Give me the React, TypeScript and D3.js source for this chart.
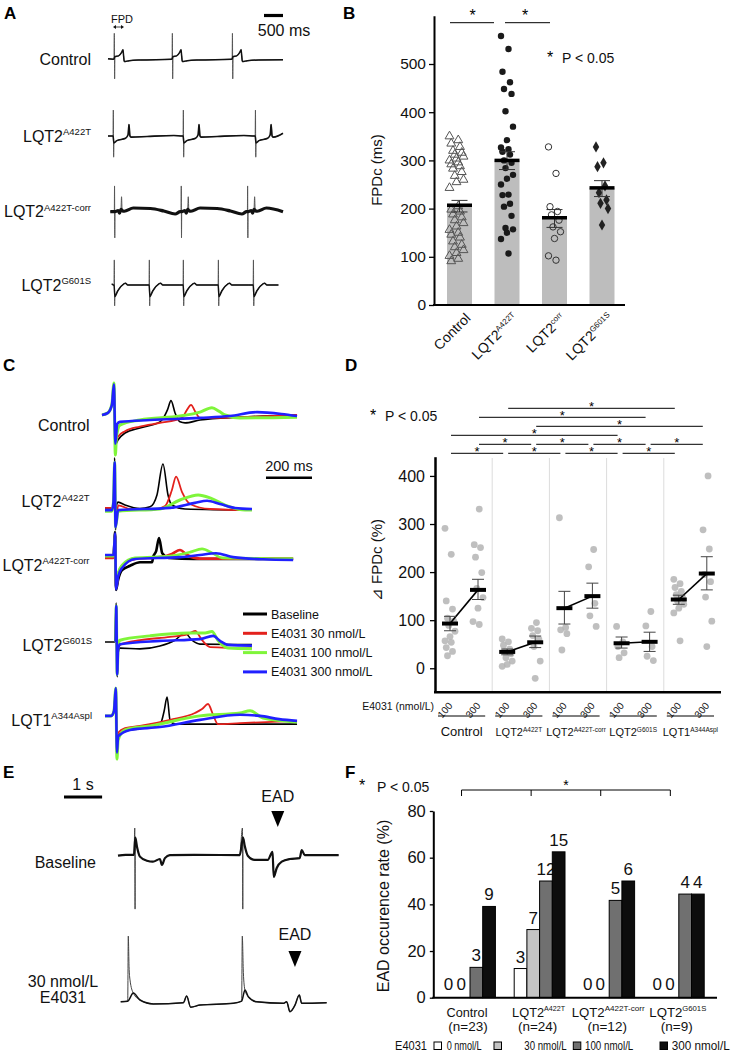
import React, { useEffect, useRef } from 'react';
import * as d3 from 'd3';

const FONT = "'Liberation Sans', Arial, Helvetica, sans-serif";
type Pt = [number, number];

// ================= Panel A (field potential traces) =================
const aRowLabels: [string, string][] = [['Control', ''], ['LQT2', 'A422T'], ['LQT2', 'A422T-corr'], ['LQT2', 'G601S']];
const aBaselines = [59.3, 136, 211.7, 285];
const aBeatTimes = [
  [158, 1684, 3263],
  [132, 1973, 3868],
  [166, 1920, 3664],
  [158, 1079, 1973, 2894, 3815],
];
const aTemplates: Pt[][] = [
  [[-20, 0], [0, 0.02], [8, 1.13], [16, -0.85], [24, 0.12], [120, 0.15], [200, 0.3], [236, 0.42], [252, 0.15], [270, -0.1], [400, -0.06], [700, -0.03]],
  [[-20, 0], [0, 0], [8, 1.13], [16, -0.92], [24, -0.3], [100, -0.2], [330, -0.1], [395, 0.05], [420, 0.5], [445, 0.0], [480, -0.05], [900, -0.02], [1600, 0.02]],
  [[-20, 0], [0, 0], [6, 1.12], [12, -1.14], [18, 0.0], [100, 0.05], [140, -0.06], [175, 0.1], [190, 0.65], [205, 0.05], [260, 0.02], [500, 0.16], [950, 0.14], [1300, 0.03], [1600, -0.1]],
  [[-20, 0], [0, 0], [8, 1.09], [16, -0.91], [24, -0.5], [100, -0.25], [260, 0.05], [300, 0.08], [360, 0], [800, 0]],
];
const aStarts: Pt[] = [[0, 0.02], [0, 0], [60, 0.0], [100, 0.05]];
const aEnds: Pt[] = [[4600, -0.02], [4600, 0.12], [4600, 0.0], [4480, 0]];
const aBandWidths = [1.5, 1.6, 3.2, 1.5];
const aBandLimits = [0.85, 0.85, 0.4, 0.85];

// ================= Panel B (FPDc bar chart) =================
const bCategories = ['Control', 'LQT2A422T', 'LQT2corr', 'LQT2G601S'];
const bCatLabels: [string, string][] = [['Control', ''], ['LQT2', 'A422T'], ['LQT2', 'corr'], ['LQT2', 'G601S']];
const bMeans = [207, 300, 181, 243];
const bErrLow = [193, 281, 161, 225];
const bErrHigh = [217, 318, 198, 258];
const bControlPts = [350, 342, 335, 328, 320, 316, 312, 308, 304, 300, 296, 292, 288, 283, 276, 268, 260, 255, 243, 205, 198, 194, 188, 182, 176, 170, 163, 156, 150, 146, 140, 132, 125, 120, 114, 108, 102, 96, 91];
const bA422TPts = [558, 531, 484, 462, 448, 438, 402, 370, 342, 327, 323, 318, 312, 300, 295, 284, 270, 262, 250, 229, 228, 210, 204, 185, 160, 157, 150, 137, 107];
const bCorrPts = [328, 273, 204, 194, 187, 176, 162, 152, 138, 102, 93];
const bG601SPts = [328, 295, 287, 247, 233, 218, 211, 200, 166];
const bYTicks = [0, 100, 200, 300, 400, 500];

// ================= Panel C (superimposed traces) =================
const cRowLabels: [string, string][] = [['Control', ''], ['LQT2', 'A422T'], ['LQT2', 'A422T-corr'], ['LQT2', 'G601S'], ['LQT1', 'A344Aspl']];
const cBaselines = [415, 509, 555, 642, 722];
const cSeries = ['Baseline', 'E4031 30 nmol/L', 'E4031 100 nmol/L', 'E4031 300 nmol/L'];
const cColors = ['#000000', '#e3211c', '#7ff53a', '#2020ff'];
const cControl: Pt[][] = [
  [[0, 0], [26, 0.06], [43, 0.28], [52, 0.89], [58, -0.83], [70, -0.69], [100, -0.5], [165, -0.36], [252, -0.19], [265, -0.1], [285, 0.15], [300, 0.4], [318, 0.05], [339, -0.19], [361, -0.22], [426, -0.14], [600, -0.06], [848, 0]],
  [[0, 0], [26, 0.06], [43, 0.28], [52, 0.85], [58, -0.75], [70, -0.6], [100, -0.45], [165, -0.32], [252, -0.22], [348, -0.08], [370, 0.15], [387, 0.28], [405, 0.1], [426, -0.08], [500, -0.08], [600, -0.06], [848, 0.0]],
  [[0, 0], [26, 0.06], [43, 0.3], [52, 0.89], [58, -1.11], [63, -0.6], [78, -0.28], [165, -0.14], [339, -0.03], [426, 0.08], [478, 0.2], [510, 0.1], [535, 0], [600, -0.08], [848, -0.06]],
  [[0, 0], [26, 0.06], [43, 0.28], [52, 0.85], [58, -0.8], [66, -0.25], [78, -0.19], [209, -0.14], [426, -0.08], [556, -0.03], [674, 0.08], [780, 0.03], [848, -0.03]],
];
const cA422T: Pt[][] = [
  [[13, 0], [43, 0], [50, 0.2], [55, 1.42], [59, -0.58], [63, 0.1], [70, 0.19], [100, 0.11], [165, 0.01], [209, 0.06], [239, 0.39], [265, 1.25], [287, 0.39], [304, 0.11], [361, 0], [652, -0.03]],
  [[13, 0.03], [43, 0.03], [50, 0.2], [55, 1.3], [59, -0.5], [70, 0.1], [122, 0], [209, -0.03], [274, 0.08], [304, 0.53], [322, 0.9], [348, 0.47], [383, 0.14], [470, 0], [652, -0.03]],
  [[13, -0.06], [43, -0.06], [50, 0.2], [55, 1.3], [59, -0.5], [70, -0.06], [252, 0], [339, 0.25], [418, 0.39], [470, 0.31], [535, 0.11], [622, -0.03], [652, -0.03]],
  [[13, -0.03], [43, -0.03], [50, 0.2], [55, 1.3], [59, -0.5], [70, -0.03], [296, 0.03], [404, 0.17], [457, 0.23], [513, 0.14], [578, 0.03], [652, 0]],
];
const cCorr: Pt[][] = [
  [[13, -0.06], [50, -0.06], [57, 0.64], [61, -0.97], [70, -0.69], [87, -0.42], [122, -0.3], [165, -0.2], [218, -0.2], [222, -0.06], [235, 0.1], [248, 0.47], [262, 0.05], [290, -0.08], [400, -0.11], [831, -0.11]],
  [[13, -0.08], [50, -0.08], [57, 0.55], [61, -0.9], [70, -0.55], [87, -0.3], [144, -0.11], [252, -0.06], [304, 0.03], [339, 0.14], [370, 0], [426, -0.1], [831, -0.1]],
  [[13, -0.03], [50, -0.03], [57, 0.55], [61, -0.9], [70, -0.5], [87, -0.28], [144, -0.08], [296, -0.03], [383, 0.08], [435, 0.17], [478, 0.06], [522, -0.08], [831, -0.1]],
  [[13, 0], [50, 0], [57, 0.6], [61, -0.95], [70, -0.6], [87, -0.36], [144, -0.11], [339, -0.06], [426, 0.0], [496, 0.05], [570, -0.06], [700, -0.12], [831, -0.14]],
];
const cG601S: Pt[][] = [
  [[13, 0], [55, 0], [62, 1.08], [66, -0.97], [70, -0.3], [78, -0.17], [165, -0.19], [252, -0.11], [317, 0.05], [361, 0.25], [391, 0.05], [426, -0.06], [652, -0.07]],
  [[60, 0], [62, 1.0], [66, -0.9], [70, -0.2], [78, -0.08], [165, 0.05], [296, 0.14], [374, 0.22], [405, 0.31], [435, 0.05], [470, -0.14], [652, -0.17]],
  [[60, 0], [62, 1.0], [66, -0.9], [70, -0.1], [78, 0.05], [209, 0.17], [374, 0.25], [448, 0.25], [478, 0.29], [504, 0.05], [548, -0.17], [652, -0.19]],
  [[60, 0], [62, 1.0], [66, -0.9], [70, -0.2], [78, -0.06], [252, 0.03], [426, 0.08], [483, 0.17], [513, 0.03], [548, -0.08], [652, -0.1]],
];
const cLQT1: Pt[][] = [
  [[13, 0.17], [40, 0.17], [52, 0.3], [60, 0.94], [65, -0.8], [70, -0.36], [100, -0.25], [165, -0.19], [230, -0.11], [257, 0], [270, 0.3], [283, 0.69], [296, 0.05], [318, -0.06], [848, -0.06]],
  [[13, 0.17], [40, 0.17], [52, 0.3], [60, 0.9], [65, -0.8], [70, -0.3], [100, -0.17], [165, -0.11], [296, 0.06], [404, 0.25], [435, 0.36], [461, 0.5], [483, 0.2], [504, -0.06], [600, -0.03], [848, 0.03]],
  [[13, 0.17], [40, 0.17], [52, 0.3], [60, 0.94], [65, -1.03], [70, -0.5], [100, -0.22], [209, -0.11], [426, 0.17], [600, 0.25], [644, 0.31], [700, 0.11], [848, 0]],
  [[13, 0.17], [40, 0.17], [52, 0.3], [60, 0.94], [65, -0.85], [70, -0.4], [122, -0.22], [252, -0.14], [426, 0.06], [600, 0.2], [687, 0.17], [770, 0.08], [848, 0.03]],
];
const cRows = [cControl, cA422T, cCorr, cG601S, cLQT1];
const cWidths = [1.6, 1.8, 3.0, 2.6];

// ================= Panel D (delta FPDc) =================
const dGroups = ['Control', 'LQT2A422T', 'LQT2A422T-corr', 'LQT2G601S', 'LQT1A344Aspl'];
const dGroupLabels: [string, string][] = [['Control', ''], ['LQT2', 'A422T'], ['LQT2', 'A422T-corr'], ['LQT2', 'G601S'], ['LQT1', 'A344Aspl']];
const dDoses = ['100', '300'];
const dMeans = [[93, 163], [34, 54], [125, 150], [52, 55], [143, 197]];
const dErrLow = [[78, 143], [28, 43], [92, 125], [42, 35], [133, 163]];
const dErrHigh = [[108, 185], [40, 67], [160, 177], [65, 75], [152, 232]];
const dPoints = [
  [[291, 237, 140, 123, 104, 98, 89, 77, 66, 57, 54, 43, 35, 26], [331, 257, 251, 231, 199, 166, 147, 125, 97, 91]],
  [[61, 55, 48, 40, 35, 30, 22, 15, 8, 4], [95, 83, 78, 68, 60, 45, 15, -21]],
  [[313, 85, 80, 72, 38], [247, 211, 135, 109, 87]],
  [[87, 55, 45, 32, 22], [118, 88, 45, 25, 16]],
  [[185, 176, 168, 160, 153, 147, 140, 133, 125, 115, 57], [400, 288, 248, 195, 180, 148, 98, 45]],
];
const dYTicks = [0, 100, 200, 300, 400];
// comparisons: [groupA, doseA, groupB, doseB, row]
const dComparisons: [number, string, number, string, number][] = [
  [0, '100', 1, '100', 0], [1, '100', 2, '100', 0], [2, '100', 3, '100', 0], [3, '100', 4, '100', 0],
  [0, '300', 1, '300', 1], [1, '300', 2, '300', 1], [2, '300', 3, '300', 1], [3, '300', 4, '300', 1],
  [0, '100', 3, '100', 2], [1, '300', 4, '300', 3], [0, '300', 3, '300', 4], [1, '100', 4, '100', 5],
];

// ================= Panel E (EAD traces) =================
const eBaselineTrace: Pt[] = [[0, 0], [200, 0.03], [420, 0.03], [440, 0.92], [448, -1.78], [454, 0.6], [498, 0.3], [576, -0.03], [760, -0.17], [917, -0.2], [1100, -0.11], [1153, -0.31], [1231, -0.08], [1362, 0.02], [2000, 0.03], [3196, 0.02], [3265, 0.92], [3275, -1.78], [3282, 0.6], [3327, 0.32], [3406, 0], [3590, -0.14], [3930, -0.14], [4055, 0.13], [4088, -0.71], [4166, -0.41], [4297, -0.2], [4507, -0.11], [4769, -0.08], [4822, 0.19], [4900, 0.02], [5790, 0.02]];
const eDrugTrace: Pt[] = [[71, 0.03], [255, 0.05], [270, 2.22], [290, 1.2], [315, 0.76], [402, 0.32], [577, 0.09], [927, -0.04], [1714, 0], [1802, 0.22], [1907, -0.15], [2152, -0.08], [3026, -0.02], [3245, 0.05], [3262, 2.22], [3290, 1.0], [3332, 0.42], [3420, 0.2], [3639, 0.03], [4338, -0.02], [4426, 0.03], [4513, -0.3], [4645, -0.08], [4758, 0.26], [4820, -0.02], [5476, 0]];
const eEadTimes = [4088, 4513];

// ================= Panel F (EAD occurrence) =================
const fGroups = ['Control', 'LQT2A422T', 'LQT2A422T-corr', 'LQT2G601S'];
const fGroupLabels: [string, string, string][] = [['Control', '', '(n=23)'], ['LQT2', 'A422T', '(n=24)'], ['LQT2', 'A422T-corr', '(n=12)'], ['LQT2', 'G601S', '(n=9)']];
const fDoses = ['0 nmol/L', '30 nmol/L', '100 nmol/L', '300 nmol/L'];
const fColors = ['#ffffff', '#c4c4c4', '#707070', '#0d0d0d'];
const fRates = [[0, 0, 13.0, 39.1], [12.5, 29.2, 50.0, 62.5], [0, 0, 41.7, 50.0], [0, 0, 44.4, 44.4]];
const fCounts = [[0, 0, 3, 9], [3, 7, 12, 15], [0, 0, 5, 6], [0, 0, 4, 4]];
const fYTicks = [0, 20, 40, 60, 80];

// ---------- helpers ----------
function Axis({ axis, transform, fontSize, width }: { axis: any; transform: string; fontSize: number; width: number }) {
  const ref = useRef<SVGGElement>(null);
  useEffect(() => {
    if (!ref.current) return;
    const g = d3.select(ref.current);
    g.call(axis);
    g.attr('font-family', FONT);
    g.selectAll('text').attr('font-size', fontSize).attr('fill', '#111');
    g.select('.domain').attr('stroke-width', width).attr('stroke', '#000');
    g.selectAll('.tick line').attr('stroke-width', 1.3).attr('stroke', '#000');
  });
  return <g ref={ref} transform={transform} />;
}

function SupText({ x, y, main, sup, size, supSize, anchor = 'end', transform, mainLen, supLen }: any) {
  return (
    <text x={x} y={y} fontSize={size} textAnchor={anchor} transform={transform} fill="#111">
      <tspan textLength={mainLen} lengthAdjust={mainLen ? 'spacingAndGlyphs' : undefined}>{main}</tspan>
      {sup ? <tspan fontSize={supSize} dy={-size * 0.38} textLength={supLen} lengthAdjust={supLen ? 'spacingAndGlyphs' : undefined}>{sup}</tspan> : null}
    </text>
  );
}

const PanelLabel = ({ x, y, t }: { x: number; y: number; t: string }) => (
  <text x={x} y={y} fontSize={17} fontWeight="bold" fill="#000">{t}</text>
);

const jitter = (i: number, w: number) => ((((i * 5) % 9) - 4) / 4) * w;

function buildBeatTrace(start: Pt, beats: number[], template: Pt[], end: Pt): Pt[] {
  const pts: Pt[] = [start];
  beats.forEach((b, i) => {
    const limit = i < beats.length - 1 ? beats[i + 1] - 30 : end[0] - 10;
    template.forEach(([dt, v]) => {
      const t = b + dt;
      if (t > pts[pts.length - 1][0] && t < limit) pts.push([t, v]);
    });
  });
  pts.push(end);
  return pts;
}

// keeps the slow part of a trace (drops the fast spike samples) for the thick noisy band
const slowPart = (pts: Pt[], lim: number) => pts.filter(p => Math.abs(p[1]) < lim);

// ---------- Panels ----------
function PanelA() {
  const x = d3.scaleLinear().domain([0, 4600]).range([108, 283]);
  return (
    <g>
      <PanelLabel x={4} y={19} t="A" />
      <text x={111} y={23} fontSize={11} fill="#111">FPD</text>
      <line x1={115} x2={122} y1={27} y2={27} stroke="#111" strokeWidth={0.8} />
      <path d="M113,27 l3,-2 v4 z M124,27 l-3,-2 v4 z" fill="#111" />
      <line x1={x(4100)} x2={x(4600)} y1={15.5} y2={15.5} stroke="#000" strokeWidth={3.2} />
      <text x={284} y={36} fontSize={16} textAnchor="middle" fill="#111">500 ms</text>
      {aRowLabels.map((lab, i) => {
        const y = d3.scaleLinear().domain([-1, 1]).range([aBaselines[i] + 23, aBaselines[i] - 23]);
        const pts = buildBeatTrace(aStarts[i], aBeatTimes[i], aTemplates[i], aEnds[i]);
        const line = d3.line<Pt>().x(d => x(d[0])).y(d => y(d[1])).curve(d3.curveMonotoneX);
        return (
          <g key={i}>
            <SupText x={91} y={aBaselines[i] + 5.5} main={lab[0]} sup={lab[1]} size={16} supSize={9.5} />
            <path d={line(pts) || ''} fill="none" stroke="#555" strokeWidth={1} strokeLinejoin="round" />
            <path d={line(slowPart(pts, aBandLimits[i])) || ''} fill="none" stroke="#111" strokeWidth={aBandWidths[i]} strokeLinejoin="round" />
          </g>
        );
      })}
    </g>
  );
}

function PanelB() {
  const y = d3.scaleLinear().domain([0, 600]).range([305, 15.8]);
  const x = d3.scalePoint<string>().domain(bCategories).range([459.5, 602]);
  const bw = 25;
  const tri = d3.symbol().type(d3.symbolTriangle).size(34)() || '';
  const dia = d3.symbol().type(d3.symbolDiamond).size(36)() || '';
  const ptsets = [bControlPts, bA422TPts, bCorrPts, bG601SPts];
  return (
    <g>
      <PanelLabel x={343} y={19} t="B" />
      {bCategories.map((c, i) => (
        <rect key={c} x={(x(c) as number) - bw / 2} y={y(bMeans[i])} width={bw} height={y(0) - y(bMeans[i])} fill="#bdbdbd" />
      ))}
      {ptsets.map((set, ci) => {
        const cx = x(bCategories[ci]) as number;
        return set.map((v, i) => {
          const px = cx + (ci === 0 ? -3 : 0) + jitter(i, ci === 0 ? 7 : 6);
          const py = y(v);
          if (ci === 0) return <path key={i} d={tri} transform={`translate(${px},${py})`} fill="none" stroke="#555" strokeWidth={1} />;
          if (ci === 1) return <circle key={i} cx={px} cy={py} r={3.2} fill="#1a1a1a" />;
          if (ci === 2) return <circle key={i} cx={px} cy={py} r={3.2} fill="none" stroke="#333" strokeWidth={1} />;
          return <path key={i} d={dia} transform={`translate(${px},${py})`} fill="#222" />;
        });
      })}
      {bCategories.map((c, i) => {
        const cx = x(c) as number;
        return (
          <g key={c}>
            <line x1={cx} x2={cx} y1={y(bErrLow[i])} y2={y(bErrHigh[i])} stroke="#333" strokeWidth={1} />
            <line x1={cx - 8} x2={cx + 8} y1={y(bErrLow[i])} y2={y(bErrLow[i])} stroke="#333" strokeWidth={1} />
            <line x1={cx - 8} x2={cx + 8} y1={y(bErrHigh[i])} y2={y(bErrHigh[i])} stroke="#333" strokeWidth={1} />
            <line x1={cx - bw / 2} x2={cx + bw / 2} y1={y(bMeans[i])} y2={y(bMeans[i])} stroke="#000" strokeWidth={3.5} />
          </g>
        );
      })}
      <Axis axis={d3.axisLeft(y).tickValues(bYTicks).tickSize(5).tickPadding(3).tickSizeOuter(0)} transform="translate(434,0)" fontSize={15.5} width={2} />
      <line x1={433} x2={625} y1={305} y2={305} stroke="#000" strokeWidth={2} />
      <text transform="translate(382,170) rotate(-90)" fontSize={15} textAnchor="middle" fill="#111">FPDc (ms)</text>
      {bCatLabels.map((lab, i) => {
        const ax = (x(bCategories[i]) as number) + 12;
        return <SupText key={i} x={0} y={0} main={lab[0]} sup={lab[1]} size={14} supSize={8} transform={`translate(${ax},319) rotate(-45)`} />;
      })}
      <line x1={450} x2={494} y1={22.7} y2={22.7} stroke="#000" strokeWidth={1} />
      <line x1={505} x2={550} y1={22.7} y2={22.7} stroke="#000" strokeWidth={1} />
      <text x={472.5} y={21} fontSize={16} textAnchor="middle" fill="#000">*</text>
      <text x={525} y={21} fontSize={16} textAnchor="middle" fill="#000">*</text>
      <text x={550} y={63} fontSize={16} textAnchor="middle" fill="#000">*</text>
      <text x={562} y={63} fontSize={14} fill="#111">P &lt; 0.05</text>
    </g>
  );
}

function PanelC() {
  const x = d3.scaleLinear().domain([0, 850]).range([102, 297.5]);
  return (
    <g>
      <PanelLabel x={3} y={371} t="C" />
      {cRows.map((row, ri) => {
        const y = d3.scaleLinear().domain([-1, 1]).range([cBaselines[ri] + 36, cBaselines[ri] - 36]);
        const line = d3.line<Pt>().x(d => x(d[0])).y(d => y(d[1])).curve(d3.curveMonotoneX);
        const lab = cRowLabels[ri];
        return (
          <g key={ri}>
            <SupText x={ri >= 3 ? 92 : 89.5} y={[430.5, 507, 570.5, 650.5, 725.5][ri]} main={lab[0]} sup={lab[1]} size={16} supSize={9.5} />
            {row.map((tr, si) => (
              <path key={si} d={line(tr) || ''} fill="none" stroke={cColors[si]} strokeWidth={ri === 2 ? 2.6 : cWidths[si]} strokeLinejoin="round" />
            ))}
          </g>
        );
      })}
      <line x1={x(713)} x2={x(913)} y1={477.7} y2={477.7} stroke="#000" strokeWidth={2.5} />
      <text x={289} y={471} fontSize={14.5} textAnchor="middle" fill="#111">200 ms</text>
      {cSeries.map((s, i) => {
        const yy = 614 + i * 19.3;
        return (
          <g key={s}>
            <line x1={243} x2={267} y1={yy} y2={yy} stroke={cColors[i]} strokeWidth={3} />
            <text x={271} y={yy + 4.5} fontSize={12.5} fill="#111">{s}</text>
          </g>
        );
      })}
    </g>
  );
}

function PanelD() {
  const y = d3.scaleLinear().domain([-50, 440]).range([692.3, 456.7]);
  const gx = d3.scaleBand<string>().domain(dGroups).range([435, 721]);
  const dx = d3.scalePoint<string>().domain(dDoses).range([15, 43]);
  const pos = (g: number, d: string) => (gx(dGroups[g]) as number) + (dx(d) as number);
  const rowY = (r: number) => 453.3 - r * 9;
  return (
    <g>
      <PanelLabel x={345} y={371} t="D" />
      <text x={373} y={421} fontSize={16} textAnchor="middle" fill="#000">*</text>
      <text x={385} y={421} fontSize={14} fill="#111">P &lt; 0.05</text>
      {dComparisons.map(([ga, da, gb, db, r], i) => {
        const x1 = pos(ga, da) + 1;
        const x2 = pos(gb, db) - 4;
        return (
          <g key={i}>
            <line x1={x1} x2={x2} y1={rowY(r)} y2={rowY(r)} stroke="#000" strokeWidth={1} />
            <text x={(x1 + x2) / 2} y={rowY(r) + 2.5} fontSize={13} textAnchor="middle" fill="#000">*</text>
          </g>
        );
      })}
      {dGroups.slice(1).map(g => (
        <line key={g} x1={gx(g)} x2={gx(g)} y1={458} y2={691} stroke="#dcdcdc" strokeWidth={1} />
      ))}
      {dPoints.map((grp, gi) =>
        grp.map((vals, di) =>
          vals.map((v, i) => (
            <circle key={`${gi}-${di}-${i}`} cx={pos(gi, dDoses[di]) + jitter(i + di, 5)} cy={y(v)} r={3.4} fill="#b4b4b4" opacity={0.85} />
          ))
        )
      )}
      {dGroups.map((g, gi) => (
        <g key={g}>
          <line x1={pos(gi, '100')} x2={pos(gi, '300')} y1={y(dMeans[gi][0])} y2={y(dMeans[gi][1])} stroke="#000" strokeWidth={1.6} />
          {dDoses.map((d, di) => {
            const cx = pos(gi, d);
            return (
              <g key={d}>
                <line x1={cx} x2={cx} y1={y(dErrLow[gi][di])} y2={y(dErrHigh[gi][di])} stroke="#444" strokeWidth={1} />
                <line x1={cx - 6} x2={cx + 6} y1={y(dErrLow[gi][di])} y2={y(dErrLow[gi][di])} stroke="#444" strokeWidth={1} />
                <line x1={cx - 6} x2={cx + 6} y1={y(dErrHigh[gi][di])} y2={y(dErrHigh[gi][di])} stroke="#444" strokeWidth={1} />
                <line x1={cx - 8} x2={cx + 8} y1={y(dMeans[gi][di])} y2={y(dMeans[gi][di])} stroke="#000" strokeWidth={4} />
              </g>
            );
          })}
        </g>
      ))}
      <Axis axis={d3.axisLeft(y).tickValues(dYTicks).tickSize(5).tickPadding(5).tickSizeOuter(0)} transform="translate(435,0)" fontSize={16} width={2.5} />
      <line x1={434} x2={721} y1={692.3} y2={692.3} stroke="#000" strokeWidth={2.5} />
      <text transform="translate(382,560) rotate(-90)" fontSize={15} textAnchor="middle" fill="#111">⊿ FPDc (%)</text>
      <text x={434} y={710} fontSize={10.5} textAnchor="end" fill="#111">E4031 (nmol/L)</text>
      {dGroups.map((g, gi) => (
        <g key={g}>
          {dDoses.map(d => (
            <text key={d} transform={`translate(${pos(gi, d) + 3},706) rotate(-50)`} fontSize={10} textAnchor="end" fill="#111">{d}</text>
          ))}
          <line x1={(gx(g) as number) + 3} x2={(gx(g) as number) + gx.bandwidth() - 7} y1={716} y2={716} stroke="#000" strokeWidth={1} />
          <SupText x={(gx(g) as number) + gx.bandwidth() / 2 - 2} y={736} main={dGroupLabels[gi][0]} sup={dGroupLabels[gi][1]} size={gi === 0 ? 13 : 11} supSize={6.5} anchor="middle" />
        </g>
      ))}
    </g>
  );
}

function PanelE() {
  const x = d3.scaleLinear().domain([0, 5800]).range([118, 339]);
  const y1 = d3.scaleLinear().domain([-1, 1]).range([855.7 + 30, 855.7 - 30]);
  const y2 = d3.scaleLinear().domain([-1, 1]).range([1002.7 + 30, 1002.7 - 30]);
  const l1 = d3.line<Pt>().x(d => x(d[0])).y(d => y1(d[1])).curve(d3.curveMonotoneX);
  const l2 = d3.line<Pt>().x(d => x(d[0])).y(d => y2(d[1])).curve(d3.curveMonotoneX);
  const tri = (cx: number, top: number) => `M${cx - 6.5},${top} L${cx + 6.5},${top} L${cx},${top + 16} Z`;
  const ex1 = x(eEadTimes[0]) + 4;
  const ex2 = x(eEadTimes[1]) + 5;
  return (
    <g>
      <PanelLabel x={3} y={778} t="E" />
      <line x1={64} x2={64 + x(1000) - x(0)} y1={797} y2={797} stroke="#000" strokeWidth={3} />
      <text x={83} y={790} fontSize={16} textAnchor="middle" fill="#111">1 s</text>
      <text x={96} y={867.5} fontSize={16} textAnchor="end" fill="#111">Baseline</text>
      <text x={63} y={987} fontSize={16} textAnchor="middle" fill="#111">30 nmol/L</text>
      <text x={63} y={1003} fontSize={16} textAnchor="middle" fill="#111">E4031</text>
      <path d={l1(eBaselineTrace) || ''} fill="none" stroke="#444" strokeWidth={1} strokeLinejoin="round" />
      <path d={l1(slowPart(eBaselineTrace, 0.85)) || ''} fill="none" stroke="#111" strokeWidth={2.2} strokeLinejoin="round" />
      <path d={l2(eDrugTrace) || ''} fill="none" stroke="#444" strokeWidth={1} strokeLinejoin="round" />
      <path d={l2(slowPart(eDrugTrace, 0.5)) || ''} fill="none" stroke="#111" strokeWidth={1.5} strokeLinejoin="round" />
      <text x={ex1} y={802} fontSize={16} textAnchor="middle" fill="#111">EAD</text>
      <path d={tri(ex1, 811)} fill="#000" />
      <text x={ex2} y={940} fontSize={16} textAnchor="middle" fill="#111">EAD</text>
      <path d={tri(ex2, 951)} fill="#000" />
    </g>
  );
}

function PanelF() {
  const y = d3.scaleLinear().domain([0, 80]).range([997.7, 811]);
  const gx = d3.scaleBand<string>().domain(fGroups).range([435.2, 713.6]).paddingInner(0.27).paddingOuter(0.135);
  const bx = d3.scaleBand<string>().domain(fDoses).range([0, gx.bandwidth()]);
  const brX = fGroups.map(g => (gx(g) as number) + gx.bandwidth() / 3);
  const nameLen = [41, 53, 73, 57];
  const supLen = [0, 21, 40, 24];
  const legBox = [434, 494, 573.3, 660];
  const legTxt = [446.7, 524.3, 585, 671.7];
  const legLen = [35, 42.4, 48.3, 58];
  return (
    <g>
      <PanelLabel x={345} y={778} t="F" />
      <text x={362} y={791} fontSize={16} textAnchor="middle" fill="#000">*</text>
      <text x={377} y={792} fontSize={14} fill="#111">P &lt; 0.05</text>
      <line x1={brX[0]} x2={brX[3]} y1={790} y2={790} stroke="#000" strokeWidth={1} />
      {brX.map((bxv, i) => <line key={i} x1={bxv} x2={bxv} y1={790} y2={796} stroke="#000" strokeWidth={1} />)}
      <text x={(brX[0] + brX[3]) / 2} y={790} fontSize={14} textAnchor="middle" fill="#000">*</text>
      {fGroups.map((g, gi) => (
        <g key={g}>
          {fDoses.map((d, di) => {
            const v = fRates[gi][di];
            const bx0 = (gx(g) as number) + (bx(d) as number);
            return (
              <g key={d}>
                {v > 0 && <rect x={bx0} y={y(v)} width={bx.bandwidth()} height={y(0) - y(v)} fill={fColors[di]} stroke="#000" strokeWidth={1} />}
                <text x={bx0 + bx.bandwidth() / 2 - (v > 0 ? 0 : 2.5)} y={y(v) - (v > 0 ? 6 : 8)} fontSize={17} textAnchor="middle" fill="#111">{fCounts[gi][di]}</text>
              </g>
            );
          })}
          <SupText x={(gx(g) as number) + gx.bandwidth() / 2 - (gi === 0 ? 3 : 1)} y={1016.5} main={fGroupLabels[gi][0]} sup={fGroupLabels[gi][1]} size={13.5} supSize={8} anchor="middle"
            mainLen={gi === 0 ? nameLen[0] : nameLen[gi] - supLen[gi]} supLen={supLen[gi] || undefined} />
          <text x={(gx(g) as number) + gx.bandwidth() / 2 - 2} y={1031} fontSize={13.5} textAnchor="middle" fill="#111">{fGroupLabels[gi][2]}</text>
        </g>
      ))}
      <Axis axis={d3.axisLeft(y).tickValues(fYTicks).tickSize(3.5).tickPadding(4).tickSizeOuter(0)} transform="translate(433.3,0)" fontSize={16.5} width={2} />
      <line x1={432.3} x2={717} y1={997.7} y2={997.7} stroke="#000" strokeWidth={2} />
      <text transform="translate(389,906) rotate(-90)" fontSize={16} textAnchor="middle" fill="#111">EAD occurence rate (%)</text>
      <text x={395} y={1050} fontSize={12} fill="#111" textLength={32} lengthAdjust="spacingAndGlyphs">E4031</text>
      {fDoses.map((d, i) => (
        <g key={d}>
          <rect x={legBox[i]} y={1042} width={7.5} height={7.5} fill={fColors[i]} stroke="#000" strokeWidth={1} />
          <text x={legTxt[i]} y={1050} fontSize={12} fill="#111" textLength={legLen[i]} lengthAdjust="spacingAndGlyphs">{d}</text>
        </g>
      ))}
    </g>
  );
}

export default function App() {
  return (
    <svg width={736} height={1059} style={{ position: 'absolute', left: 0, top: 0, background: '#fff' }} fontFamily={FONT}>
      <PanelA />
      <PanelB />
      <PanelC />
      <PanelD />
      <PanelE />
      <PanelF />
    </svg>
  );
}
